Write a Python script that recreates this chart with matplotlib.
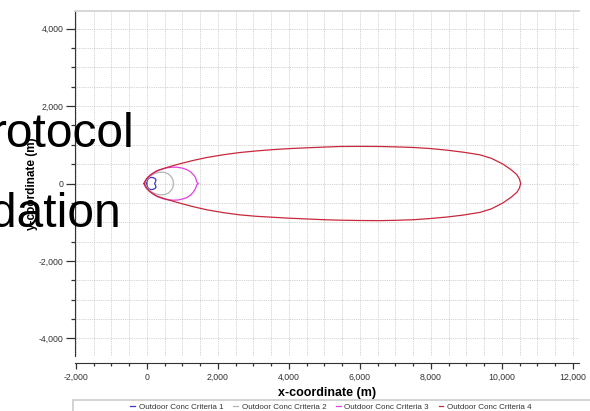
import matplotlib.pyplot as plt
from matplotlib.ticker import MultipleLocator, FuncFormatter
from matplotlib.patches import Rectangle

# Threat-zone outlines (metres).
crit1_x = [-10, 10, 50, 113, 180, 230, 254, 240, 216, 240, 254, 230, 180, 113, 50, 10, -10]
crit1_y = [0, 80, 135, 158, 150, 125, 95, 50, 0, -50, -95, -125, -150, -158, -135, -80, 0]

crit2_x = [-60, 0, 100, 220, 350, 480, 600, 690, 735, 745, 735, 690, 600, 480, 350, 220, 100, 0, -60]
crit2_y = [0, 110, 200, 260, 290, 290, 250, 170, 80, 0, -80, -170, -250, -290, -290, -260, -200, -110, 0]

crit3_x = [-80, -40, 0, 80, 178, 350, 555, 700, 837, 980, 1118, 1220, 1306, 1370, 1400, 1445,
           1400, 1380, 1352, 1290, 1211, 1120, 1023, 880, 741, 600, 459, 300, 178, 80, -9, -50, -80]
crit3_y = [0, 80, 125, 200, 270, 350, 405, 420, 421, 400, 361, 305, 232, 150, 40, 0,
           -40, -100, -155, -240, -310, -365, -395, -425, -431, -420, -395, -340, -275, -205, -125, -75, 0]

crit4_x = [-85, -40, -9, 85, 273, 555, 930, 1300, 1681, 2150, 2620, 3100, 3558, 4000, 4498, 5000,
           5437, 6000, 6563, 7000, 7502, 7972, 8450, 8910, 9380, 9700, 10028, 10250, 10414, 10490,
           10527,
           10490, 10414, 10250, 10028, 9700, 9380, 8910, 8450, 7972, 7502, 7000, 6563, 6000,
           5437, 5000, 4498, 4000, 3558, 3100, 2620, 2150, 1681, 1300, 930, 555, 273, 85, -9, -40, -85]
crit4_y = [0, 80, 129, 215, 327, 413, 510, 595, 670, 742, 800, 842, 875, 900, 921, 940,
           955, 958, 955, 945, 930, 903, 860, 808, 740, 650, 500, 360, 232, 120,
           0,
           -120, -232, -360, -500, -655, -745, -815, -865, -905, -935, -950, -958, -955,
           -947, -935, -915, -895, -872, -848, -810, -752, -678, -598, -508, -410, -325, -215, -129, -80, 0]

series_x = [crit1_x, crit2_x, crit3_x, crit4_x]
series_y = [crit1_y, crit2_y, crit3_y, crit4_y]
labels = ['Outdoor Conc Criteria 1', 'Outdoor Conc Criteria 2',
          'Outdoor Conc Criteria 3', 'Outdoor Conc Criteria 4']
colors = ['#4038c0', '#b4b4b4', '#e040e0', '#c8283c']

plt.rcParams['font.family'] = ['Liberation Sans', 'DejaVu Sans']

fig = plt.figure(figsize=(5.9, 4.11), dpi=100)
ax = fig.add_axes([75 / 590, 55 / 411, 504 / 590, 345 / 411])

handles = []
for xs, ys, lab, col in zip(series_x, series_y, labels, colors):
    line, = ax.plot(xs, ys, color=col, linewidth=0.9, label=lab)
    handles.append(line)

ax.set_xlim(-2028, 12169)
ax.set_ylim(-4452, 4452)

# Axis ticks and dotted grid.
ax.xaxis.set_major_locator(MultipleLocator(2000))
ax.yaxis.set_major_locator(MultipleLocator(2000))
ax.xaxis.set_minor_locator(MultipleLocator(500))
ax.yaxis.set_minor_locator(MultipleLocator(500))
fmt = FuncFormatter(lambda v, p: f'{int(round(v)):,}')
ax.xaxis.set_major_formatter(fmt)
ax.yaxis.set_major_formatter(fmt)
ax.tick_params(which='both', color='#333333', width=0.9,
               labelsize=6.3, labelcolor='#333333')
ax.tick_params(axis='x', which='major', length=4, pad=3)
ax.tick_params(axis='x', which='minor', length=2.5)
ax.tick_params(axis='y', which='major', length=6.5, pad=2)
ax.tick_params(axis='y', which='minor', length=3)
ax.grid(which='both', color='#c4c4c4', linestyle=(0, (1, 1.2)), linewidth=0.6)
ax.set_axisbelow(True)

ax.spines['bottom'].set_position(('outward', 5))
ax.spines['bottom'].set_color('#333333')
ax.spines['left'].set_color('#333333')
ax.spines['right'].set_visible(False)
ax.spines['top'].set_color('#d4d4d4')
ax.spines['top'].set_linewidth(1.3)

ax.set_xlabel('x-coordinate (m)', fontsize=9, fontweight='bold', labelpad=3.5)
ax.set_ylabel('y-coordinate (m)', fontsize=8.5, fontweight='bold')
ax.yaxis.set_label_coords(-0.073, 0.5)

# Legend strip along the bottom.
fig.add_artist(Rectangle((73 / 590, -0.01), 0.9, 15 / 411, transform=fig.transFigure,
                         facecolor='white', edgecolor='#cccccc', linewidth=1.2))
fig.legend(handles, labels, loc='center', bbox_to_anchor=(331 / 590, 1 - 407 / 411),
           ncol=4, frameon=False, fontsize=5.8, handlelength=0.6, handletextpad=0.45,
           columnspacing=1.2, labelcolor='#333333', borderpad=0, borderaxespad=0)

# Overlaid slide text fragments.
fig.text(135 / 590, 1 - 147 / 411, 'rotocol', ha='right', va='baseline',
         fontsize=34.5, color='black')
fig.text(121 / 590, 1 - 227 / 411, 'dation', ha='right', va='baseline',
         fontsize=34.5, color='black')

plt.savefig('out.png', dpi=100)
